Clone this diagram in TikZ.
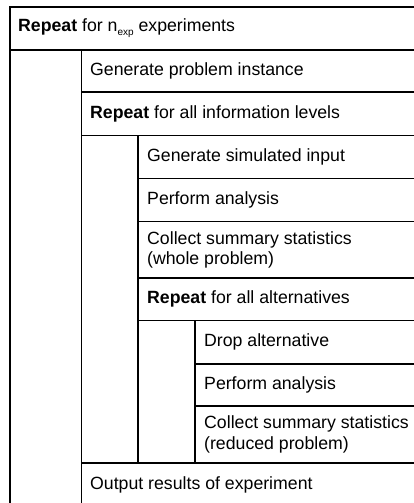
\documentclass[tikz,border=0pt]{standalone}
\usepackage{fontspec}
\setmainfont{Liberation Sans}
\usetikzlibrary{calc}

\tikzset{
  frame/.style={line width=1.2pt, line cap=rect},
  rowtext/.style={anchor=west, inner sep=0pt, align=left,
    font=\fontsize{17.7}{20.5}\selectfont}
}

\begin{document}
\begin{tikzpicture}[x=1pt,y=-1pt]
    \useasboundingbox (0,0) rectangle (414,503);

    % draw outer frame
    \draw[frame] (414,7) -- (10,7) -- (10,503);

    % draw horizontal lines
    \foreach \y/\x in {50/10,92/81.5,135.5/81.5,178.5/138,221.7/138,278/138,320.7/138,364/195,406/195,463/81.5}
    \draw[frame] (\x,\y) -- (414,\y);

    % draw vertical lines
    \draw[frame] (81.5,50) -- (81.5,503);
    \draw[frame] (138,135.5) -- (138,463);
    \draw[frame] (195,320.7) -- (195,463);

    % draw nodes
    \node[rowtext] (repexp) at (18,28.5) {\textbf{Repeat} for n\raisebox{-4pt}{\fontsize{10}{12}\selectfont exp} experiments};
    \node[rowtext] (geninst) at (90,71) {Generate problem instance};
    \node[rowtext] (repinfo) at (90,113.8) {\textbf{Repeat} for all information levels};
    \node[rowtext] (geninput) at (147,157) {Generate simulated input};
    \node[rowtext] (analysisa) at (147,200) {Perform analysis};
    \node[rowtext] (collecta) at (147,250) {Collect summary statistics\\(whole problem)};
    \node[rowtext] (repalt) at (147,299.4) {\textbf{Repeat} for all alternatives};
    \node[rowtext] (dropalt) at (204,342.4) {Drop alternative};
    \node[rowtext] (analysisb) at (204,385) {Perform analysis};
    \node[rowtext] (collectb) at (204,434.5) {Collect summary statistics\\(reduced problem)};
    \node[rowtext] (output) at (90,485) {Output results of experiment};

  \end{tikzpicture}
\end{document}
